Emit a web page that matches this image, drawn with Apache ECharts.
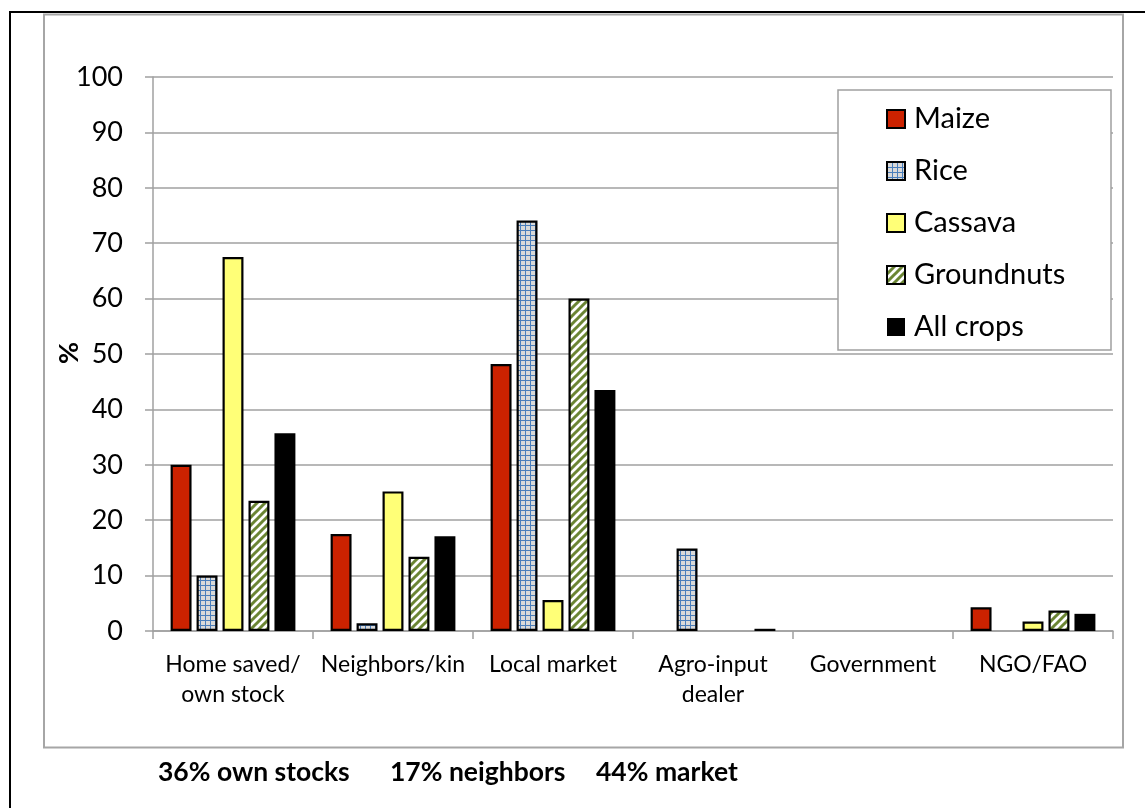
<!DOCTYPE html>
<html>
<head>
<meta charset="utf-8">
<script src="https://cdn.jsdelivr.net/npm/echarts@6/dist/echarts.min.js"></script>
<style>
html,body{margin:0;padding:0;background:#fff;}
#chart{width:1145px;height:808px;}
</style>
</head>
<body>
<div id="chart"></div>
<script>
// ---- data ----
var categories = ['Home saved/\nown stock', 'Neighbors/kin', 'Local market', 'Agro-input\ndealer', 'Government', 'NGO/FAO'];
var seriesNames = ['Maize', 'Rice', 'Cassava', 'Groundnuts', 'All crops'];
var maize      = [30.0, 17.5, 48.2, 0,    0, 4.3];
var rice       = [10.0, 1.4,  74.1, 14.9, 0, 0];
var cassava    = [67.5, 25.2, 5.6,  0,    0, 1.7];
var groundnuts = [23.5, 13.4, 60.0, 0,    0, 3.7];
var allCrops   = [35.7, 17.1, 43.5, 0.4,  0, 3.1];
var yTicks = [0, 10, 20, 30, 40, 50, 60, 70, 80, 90, 100];
var yAxisName = '%';
var footnotes = ['36% own stocks', '17% neighbors', '44% market'];

// ---- patterns ----
function ricePattern() {
  var c = document.createElement('canvas');
  c.width = 5; c.height = 5;
  var g = c.getContext('2d');
  g.fillStyle = '#d9d9d9'; g.fillRect(0, 0, 5, 5);
  g.fillStyle = '#4a7ebb';
  g.fillRect(0, 0, 5, 1);
  g.fillRect(0, 0, 1, 5);
  return c;
}
function stripePattern() {
  var s = 8;
  var c = document.createElement('canvas');
  c.width = s; c.height = s;
  var g = c.getContext('2d');
  g.fillStyle = '#ffffff'; g.fillRect(0, 0, s, s);
  g.strokeStyle = '#6b8534'; g.lineWidth = 3;
  g.beginPath();
  g.moveTo(-1, s + 1); g.lineTo(s + 1, -1);
  g.moveTo(-2, 2); g.lineTo(2, -2);
  g.moveTo(s - 2, s + 2); g.lineTo(s + 2, s - 2);
  g.stroke();
  return c;
}

var FONT = 'Lato';
function clean(arr) { return arr.map(function (v) { return v === 0 ? null : v; }); }

var fills = [
  '#cc2200',
  { image: ricePattern(), repeat: 'repeat' },
  '#ffff77',
  { image: stripePattern(), repeat: 'repeat' },
  '#000000'
];
var dataSets = [maize, rice, cassava, groundnuts, allCrops];

var series = seriesNames.map(function (name, i) {
  var isAll = i === 4;
  return {
    name: name,
    type: 'bar',
    data: clean(dataSets[i]),
    barCategoryGap: '22%',
    barGap: '24%',
    itemStyle: {
      color: fills[i],
      borderColor: '#000',
      borderWidth: isAll ? 0 : 2.2
    },
    emphasis: { disabled: true },
    animation: false
  };
});

var chart = echarts.init(document.getElementById('chart'), null, { renderer: 'canvas' });
chart.setOption({
  backgroundColor: '#ffffff',
  animation: false,
  textStyle: { fontFamily: FONT },
  grid: { left: 153, top: 77, right: 32, bottom: 177 },
  legend: {
    orient: 'vertical',
    left: 886,
    top: 104,
    padding: 0,
    itemGap: 22,
    itemWidth: 18,
    itemHeight: 18,
    icon: 'rect',
    z: 5,
    selectedMode: false,
    data: seriesNames,
    textStyle: { fontFamily: FONT, fontSize: 29, color: '#000', lineHeight: 30, padding: [0, 0, 0, 4] }
  },
  xAxis: {
    type: 'category',
    data: categories,
    axisLine: { lineStyle: { color: '#a0a0a0', width: 1.5 } },
    axisTick: { show: true, length: 8, lineStyle: { color: '#a0a0a0', width: 1.5 } },
    axisLabel: { fontFamily: FONT, fontSize: 23, color: '#000', lineHeight: 30, margin: 19, interval: 0 }
  },
  yAxis: {
    type: 'value',
    min: 0, max: 100, interval: 10,
    axisLine: { show: true, lineStyle: { color: '#a0a0a0', width: 1.5 } },
    axisTick: { show: true, length: 8, lineStyle: { color: '#a0a0a0', width: 1.5 } },
    splitLine: { lineStyle: { color: '#a0a0a0', width: 1.5 } },
    axisLabel: {
      fontFamily: FONT, fontSize: 27, color: '#000', margin: 30,
      formatter: function (v) { return yTicks.indexOf(v) >= 0 ? String(v) : ''; }
    }
  },
  graphic: [
    { type: 'rect', shape: { x: 10, y: 12, width: 1300, height: 1000 }, style: { fill: null, stroke: '#000', lineWidth: 2 }, z: 0, silent: true },
    { type: 'rect', shape: { x: 44, y: 14.5, width: 1079, height: 733 }, style: { fill: null, stroke: '#a6a6a6', lineWidth: 2 }, z: 0, silent: true },
    { type: 'rect', shape: { x: 838, y: 90, width: 273, height: 260 }, style: { fill: '#fff', stroke: '#a0a0a0', lineWidth: 1.5 }, z: 3, silent: true },
    { type: 'text', x: 69, y: 353, rotation: Math.PI / 2, style: { text: yAxisName, font: 'bold 27px Lato', fill: '#000', textAlign: 'center', textVerticalAlign: 'middle' }, silent: true },
    { type: 'text', x: 158, y: 772, style: { text: footnotes[0], font: 'bold 26.5px Lato', fill: '#000', textVerticalAlign: 'middle' }, silent: true },
    { type: 'text', x: 390, y: 772, style: { text: footnotes[1], font: 'bold 26.5px Lato', fill: '#000', textVerticalAlign: 'middle' }, silent: true },
    { type: 'text', x: 596, y: 772, style: { text: footnotes[2], font: 'bold 26.5px Lato', fill: '#000', textVerticalAlign: 'middle' }, silent: true }
  ],
  series: series
});
</script>
</body>
</html>
